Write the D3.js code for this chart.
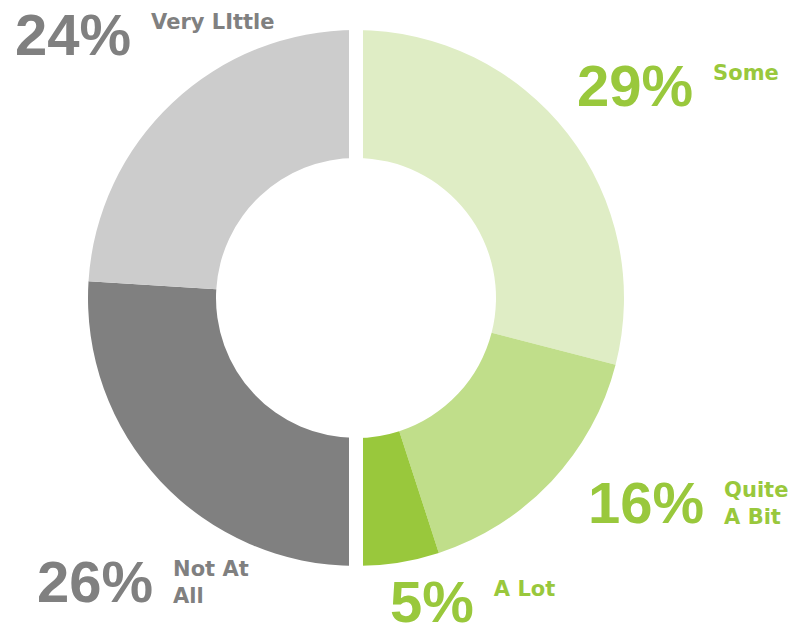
<!DOCTYPE html>
<html lang="en">
<head>
    <meta charset="utf-8">
    <title>Donut</title>
    <script type="text/javascript" src="https://d3js.org/d3.v7.min.js"></script>
    <style>
        body { margin: 0; background: #fff; }
    </style>
</head>
<body>
<script type="text/javascript">
        var w = 788;
        var h = 636;

        // slices clockwise from 12 o'clock
        var categories = ["Some", "Quite A Bit", "A Lot", "Not At All", "Very Little"];
        var values = [29, 16, 5, 26, 24];
        var colors = ["#dfedc5", "#c0de8a", "#99c83c", "#808080", "#cccccc"];
        var labelColors = ["#99c83c", "#99c83c", "#99c83c", "#808080", "#808080"];
        var labelLines = [["Some"], ["Quite", "A Bit"], ["A Lot"], ["Not At", "All"], ["Very LIttle"]];

        // where each percent/label pair sits (left of percent, baseline of percent)
        var labelPos = [[577, 106], [588, 523], [390, 622], [37, 602], [15, 55]];

        var cx = 356, cy = 298;
        var outerR = 268, innerR = 140;

        var svg = d3.select("body")
            .append("svg")
            .attr("width", w)
            .attr("height", h);

        var pie = d3.pie().sort(null).value(function(d) { return d; });
        var arc = d3.arc().innerRadius(innerR).outerRadius(outerR);

        var g = svg.append("g").attr("transform", "translate(" + cx + "," + cy + ")");

        g.selectAll("path")
            .data(pie(values))
            .enter()
            .append("path")
            .attr("d", arc)
            .attr("fill", function(d, i) { return colors[i]; });

        // white split between the two halves
        g.append("line")
            .attr("x1", 0).attr("x2", 0)
            .attr("y1", -outerR - 2).attr("y2", outerR + 2)
            .attr("stroke", "#fff")
            .attr("stroke-width", 14);

        var labels = svg.selectAll("g.lab")
            .data(categories)
            .enter()
            .append("g")
            .attr("class", "lab")
            .attr("transform", function(d, i) {
                return "translate(" + labelPos[i][0] + "," + labelPos[i][1] + ")";
            });

        var pct = labels.append("text")
            .attr("x", 0)
            .attr("y", 0)
            .attr("font-family", "'Liberation Sans', Arial, sans-serif")
            .attr("font-weight", "bold")
            .attr("font-size", 58)
            .attr("fill", function(d, i) { return labelColors[i]; })
            .text(function(d, i) { return values[i] + "%"; });

        labels.each(function(d, i) {
            var bw = pct.nodes()[i].getComputedTextLength();
            var t = d3.select(this).append("text")
                .attr("font-family", "'DejaVu Sans', sans-serif")
                .attr("font-weight", "bold")
                .attr("font-size", 21)
                .attr("fill", labelColors[i]);
            labelLines[i].forEach(function(line, k) {
                t.append("tspan")
                    .attr("x", bw + 20)
                    .attr("y", -26 + k * 27)
                    .text(line);
            });
        });
</script>
</body>
</html>
